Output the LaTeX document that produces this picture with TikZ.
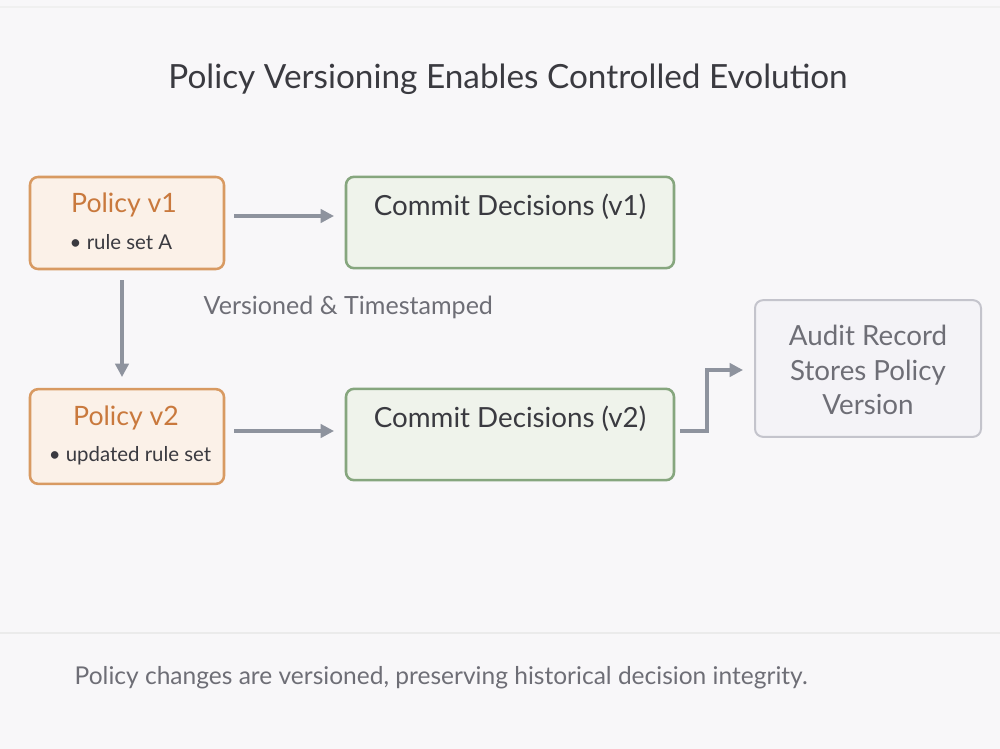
\documentclass[tikz,border=0pt]{standalone}
\usepackage{fontspec}
\setmainfont{Lato}
\usetikzlibrary{arrows.meta}
\definecolor{bgc}{HTML}{F8F7F9}
\definecolor{orgb}{HTML}{D89A62}
\definecolor{orgf}{HTML}{FBF1E8}
\definecolor{orgt}{HTML}{C9793D}
\definecolor{grnb}{HTML}{86A67E}
\definecolor{grnf}{HTML}{EFF3EB}
\definecolor{gryb}{HTML}{C4C4CC}
\definecolor{gryf}{HTML}{F4F3F7}
\definecolor{arr}{HTML}{8E939E}
\definecolor{txt}{HTML}{3A3A40}
\definecolor{mut}{HTML}{6E6E76}
\tikzset{
  pbox/.style={draw=orgb, fill=orgf, line width=1.9pt, rounded corners=6pt},
  cbox/.style={draw=grnb, fill=grnf, line width=1.9pt, rounded corners=6pt},
  abox/.style={draw=gryb, fill=gryf, line width=1.5pt, rounded corners=6pt},
  conn/.style={draw=arr, line width=2.4pt, -{Triangle[length=10pt,width=10pt]}},
}
\begin{document}
\begin{tikzpicture}[x=0.75pt,y=-0.75pt]
\useasboundingbox (0,0) rectangle (1000,749);
\fill[bgc] (0,0) rectangle (1000,749);
\draw[color=black!6, line width=0.8pt] (0,7) -- (1000,7);
\draw[color=black!8, line width=1pt] (0,633) -- (1000,633);
\node[text=txt, font=\fontsize{25}{30}\selectfont] (title) at (508,79) {Policy Versioning Enables Controlled Evolution};
% boxes
\node[pbox, minimum width=145.5pt, minimum height=69pt] (p1) at (127,223) {};
\node[pbox, minimum width=145.5pt, minimum height=71pt] (p2) at (127,436.5) {};
\node[cbox, minimum width=246pt, minimum height=68.5pt] (c1) at (510,222.5) {};
\node[cbox, minimum width=246pt, minimum height=68.5pt] (c2) at (510,434.5) {};
\node[abox, minimum width=169.5pt, minimum height=102.5pt] (au) at (868,368.5) {};
% texts
\node[text=orgt, font=\fontsize{20}{24}\selectfont] (p1t) at (124,205) {Policy v1};
\node[text=txt, font=\fontsize{15.3}{18}\selectfont] (p1b) at (121,242) {\textbullet\ rule set A};
\node[text=orgt, font=\fontsize{20}{24}\selectfont] (p2t) at (126,418) {Policy v2};
\node[text=txt, font=\fontsize{15.3}{18}\selectfont] (p2b) at (130,456) {\textbullet\ updated rule set};
\node[text=txt, font=\fontsize{20.8}{25}\selectfont] (c1t) at (510,207) {Commit Decisions (v1)};
\node[text=txt, font=\fontsize{20.8}{25}\selectfont] (c2t) at (510,419) {Commit Decisions (v2)};
\node[text=mut, font=\fontsize{20.8}{26}\selectfont, align=center] (aut) at (868,370) {Audit Record\\Stores Policy\\Version};
\node[text=mut, font=\fontsize{18.8}{22}\selectfont, anchor=west] (lab) at (199,307) {Versioned \& Timestamped};
\node[text=mut, font=\fontsize{18.4}{22}\selectfont, anchor=west] (foot) at (70,678) {Policy changes are versioned, preserving historical decision integrity.};
% connectors
\coordinate (a1s) at (234,216);
\coordinate (a1e) at (334,216);
\draw[conn] (a1s) -- (a1e);
\coordinate (a2s) at (234,431);
\coordinate (a2e) at (334,431);
\draw[conn] (a2s) -- (a2e);
\coordinate (vs) at (122,280);
\coordinate (ve) at (122,377);
\draw[conn] (vs) -- (ve);
\coordinate (es) at (680,431);
\coordinate (ee) at (743,370);
\draw[conn] (es) -- (707,431) -- (707,370) -- (ee);
\end{tikzpicture}
\end{document}
